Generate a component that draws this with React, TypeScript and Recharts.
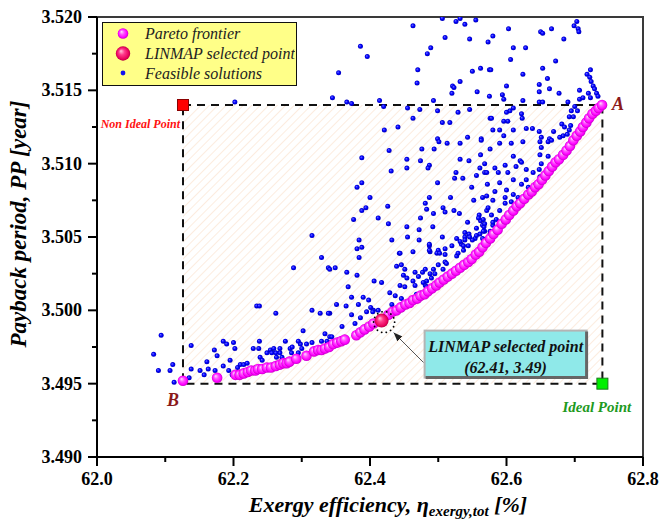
import React from 'react';
import { ScatterChart, Scatter, XAxis, YAxis, ReferenceArea, ReferenceDot, Legend } from 'recharts';

const serif = "'Liberation Serif', 'Times New Roman', serif";

const xMajorTicks = [62.0, 62.2, 62.4, 62.6, 62.8];
const xMinorTicks = [62.1, 62.3, 62.5, 62.7];
const yMajorTicks = [3.49, 3.495, 3.5, 3.505, 3.51, 3.515, 3.52];
const yMinorTicks = [3.4925, 3.4975, 3.5025, 3.5075, 3.5125, 3.5175];

const legendNames = ['Pareto frontier', 'LINMAP selected point', 'Feasible solutions'];
const calloutLines = ['LINMAP selected point', '(62.41, 3.49)'];

// [exergy efficiency %, payback period years]
const paretoFrontier: [number, number][] = [
  [62.126, 3.4952], [62.176, 3.4954], [62.203, 3.4956], [62.209, 3.4956], [62.215, 3.4957],
  [62.221, 3.4958], [62.226, 3.4959], [62.232, 3.4959], [62.236, 3.496], [62.242, 3.496],
  [62.249, 3.4961], [62.255, 3.4961], [62.262, 3.4962], [62.268, 3.4963], [62.273, 3.4964],
  [62.278, 3.4964], [62.282, 3.4965], [62.292, 3.4967], [62.307, 3.4969], [62.318, 3.4972],
  [62.324, 3.4973], [62.329, 3.4973], [62.334, 3.4974], [62.34, 3.4975], [62.346, 3.4977],
  [62.352, 3.4978], [62.358, 3.4979], [62.363, 3.498], [62.38, 3.4983], [62.386, 3.4985],
  [62.392, 3.4987], [62.399, 3.4989], [62.405, 3.4991], [62.427, 3.4997], [62.433, 3.4999],
  [62.439, 3.5], [62.445, 3.5002], [62.452, 3.5004], [62.458, 3.5005], [62.463, 3.5007],
  [62.469, 3.5008], [62.474, 3.501], [62.48, 3.5011], [62.485, 3.5013], [62.491, 3.5015],
  [62.497, 3.5017], [62.502, 3.5019], [62.508, 3.5021], [62.514, 3.5023], [62.52, 3.5025],
  [62.526, 3.5027], [62.532, 3.5029], [62.538, 3.5031], [62.544, 3.5033], [62.549, 3.5035],
  [62.555, 3.5038], [62.56, 3.504], [62.565, 3.5043], [62.57, 3.5046], [62.576, 3.5049],
  [62.581, 3.5052], [62.587, 3.5055], [62.593, 3.5059], [62.599, 3.5062], [62.604, 3.5065],
  [62.61, 3.5068], [62.615, 3.5071], [62.62, 3.5073], [62.626, 3.5076], [62.632, 3.5079],
  [62.637, 3.5081], [62.642, 3.5084], [62.647, 3.5086], [62.652, 3.5089], [62.657, 3.5092],
  [62.662, 3.5095], [62.667, 3.5098], [62.672, 3.5101], [62.677, 3.5103], [62.683, 3.5106],
  [62.688, 3.5109], [62.693, 3.5112], [62.698, 3.5116], [62.703, 3.5119], [62.708, 3.5122],
  [62.712, 3.5125], [62.717, 3.5128], [62.721, 3.5131], [62.726, 3.5134], [62.731, 3.5136],
  [62.735, 3.5138], [62.74, 3.514],
];

const linmapSelected: [number, number][] = [[62.417, 3.4993]];

const nonIdealPoint: [number, number] = [62.126, 3.514];
const idealPoint: [number, number] = [62.7405, 3.495];

const feasibleSolutions: [number, number][] = [
  // lower left tail
  [62.083, 3.497], [62.094, 3.4983], [62.09, 3.4959], [62.107, 3.4959], [62.111, 3.4963],
  [62.113, 3.4951], [62.138, 3.4976], [62.138, 3.496], [62.135, 3.4954], [62.151, 3.4959],
  [62.157, 3.4956], [62.161, 3.4965], [62.163, 3.496], [62.172, 3.4973], [62.176, 3.4969],
  [62.173, 3.4959], [62.185, 3.4979], [62.185, 3.4962], [62.19, 3.4977], [62.193, 3.4959],
  [62.195, 3.4966], [62.198, 3.4956], [62.2, 3.4978], [62.202, 3.4974], [62.206, 3.4961],
  [62.21, 3.4963], [62.215, 3.4963], [62.22, 3.4964], [62.229, 3.4974], [62.234, 3.5003],
  [62.238, 3.5003], [62.237, 3.4974], [62.238, 3.4979], [62.239, 3.4968], [62.242, 3.4966],
  [62.249, 3.4971], [62.254, 3.4973], [62.259, 3.4974], [62.262, 3.4998], [62.263, 3.4968],
  [62.268, 3.4971], [62.271, 3.4968], [62.276, 3.4979], [62.283, 3.4974], [62.286, 3.4975],
  [62.288, 3.5029], [62.298, 3.4977], [62.3, 3.4974], [62.302, 3.4986], [62.315, 3.5],
  [62.315, 3.4978], [62.317, 3.4972], [62.327, 3.4998], [62.334, 3.4984], [62.339, 3.5029],
  [62.339, 3.4978], [62.368, 3.5016], [62.351, 3.5004], [62.383, 3.5004], [62.398, 3.5007],
  [62.406, 3.502], [62.341, 3.4998], [62.359, 3.4989], [62.373, 3.4997], [62.378, 3.4991],
  [62.386, 3.4995], [62.395, 3.4999], [62.405, 3.5], [62.378, 3.4984], [62.341, 3.4982],
  [62.295, 3.4979], [62.307, 3.4977], [62.285, 3.4971], [62.295, 3.4971], [62.268, 3.4974],
  [62.256, 3.4971], [62.262, 3.4971], [62.329, 3.4979], [62.337, 3.4979], [62.344, 3.4982],
  [62.202, 3.5142], [62.315, 3.5051], [62.329, 3.5036], [62.341, 3.5028], [62.339, 3.4998],
  // upper band
  [62.463, 3.5194], [62.506, 3.5199], [62.526, 3.5197], [62.532, 3.5199], [62.539, 3.5195],
  [62.555, 3.5198], [62.51, 3.5186], [62.546, 3.5185], [62.573, 3.5183], [62.386, 3.518],
  [62.396, 3.5173], [62.489, 3.5179], [62.484, 3.5175], [62.354, 3.5162], [62.47, 3.5164],
  [62.469, 3.5155], [62.55, 3.5163], [62.562, 3.5165], [62.575, 3.5164], [62.532, 3.5156],
  [62.521, 3.5153], [62.523, 3.5152], [62.52, 3.5148], [62.557, 3.5149], [62.575, 3.5146],
  [62.345, 3.5145], [62.366, 3.5142], [62.373, 3.5141], [62.414, 3.5143], [62.42, 3.5139],
  [62.455, 3.5138], [62.473, 3.5137], [62.493, 3.5143], [62.499, 3.5136], [62.463, 3.5131],
  [62.506, 3.5128], [62.517, 3.5128], [62.529, 3.5135], [62.546, 3.5137], [62.421, 3.5123],
  [62.441, 3.5125], [62.499, 3.5117], [62.543, 3.5118], [62.563, 3.5117], [62.576, 3.5131],
  [62.703, 3.5197], [62.699, 3.5194], [62.705, 3.5192], [62.706, 3.519], [62.603, 3.5192],
  [62.65, 3.519], [62.653, 3.5189], [62.666, 3.5192], [62.58, 3.5187], [62.684, 3.5185],
  [62.61, 3.5179], [62.628, 3.5179], [62.606, 3.5171], [62.672, 3.517], [62.577, 3.5164],
  [62.653, 3.5165], [62.624, 3.5161], [62.66, 3.5158], [62.648, 3.5154], [62.6, 3.5153],
  [62.663, 3.5151], [62.723, 3.5164], [62.718, 3.5161], [62.722, 3.5159], [62.724, 3.5156],
  [62.727, 3.5153], [62.729, 3.5151], [62.732, 3.5148], [62.734, 3.5146], [62.72, 3.5148],
  [62.707, 3.515], [62.677, 3.5148], [62.648, 3.5149], [62.594, 3.5147], [62.596, 3.5144],
  [62.624, 3.5143], [62.648, 3.5142], [62.653, 3.5142], [62.69, 3.5142], [62.707, 3.5144],
  [62.712, 3.5145], [62.723, 3.5145], [62.61, 3.5138], [62.605, 3.5136], [62.7, 3.5139],
  [62.695, 3.5136], [62.704, 3.5136], [62.622, 3.5134], [62.6, 3.5135], [62.578, 3.5131],
  [62.623, 3.5131], [62.698, 3.5132], [62.602, 3.5129], [62.596, 3.5129], [62.629, 3.5124],
  [62.638, 3.5124], [62.692, 3.5132], [62.694, 3.5126], [62.58, 3.5123], [62.59, 3.5123],
  [62.61, 3.5123], [62.648, 3.5122], [62.669, 3.5122], [62.681, 3.5127], [62.685, 3.5125],
  [62.692, 3.5123], [62.596, 3.5119], [62.651, 3.5118], [62.663, 3.5117], [62.683, 3.5119],
  [62.689, 3.512],
  // middle cloud
  [62.501, 3.5115], [62.513, 3.5114], [62.532, 3.5114], [62.563, 3.5116], [62.428, 3.5109],
  [62.476, 3.511], [62.494, 3.511], [62.388, 3.5104], [62.454, 3.5103], [62.474, 3.5102],
  [62.487, 3.5099], [62.485, 3.5097], [62.454, 3.5097], [62.532, 3.5103], [62.545, 3.5102],
  [62.562, 3.5106], [62.431, 3.5095], [62.526, 3.5094], [62.524, 3.509], [62.536, 3.509],
  [62.556, 3.5092], [62.568, 3.5094], [62.561, 3.5097], [62.388, 3.5087], [62.381, 3.5084],
  [62.499, 3.5087], [62.549, 3.5084], [62.572, 3.5086], [62.4, 3.5077], [62.426, 3.5071],
  [62.394, 3.507], [62.388, 3.5068], [62.376, 3.5062], [62.412, 3.5063], [62.427, 3.5059],
  [62.474, 3.5063], [62.481, 3.5073], [62.487, 3.5077], [62.483, 3.5069], [62.493, 3.5066],
  [62.507, 3.507], [62.51, 3.5067], [62.518, 3.5077], [62.523, 3.5068], [62.531, 3.5066],
  [62.552, 3.5075], [62.565, 3.5077], [62.571, 3.5078], [62.543, 3.506], [62.56, 3.5065],
  [62.562, 3.5061], [62.571, 3.5068], [62.454, 3.5057], [62.472, 3.5055], [62.492, 3.5057],
  [62.455, 3.505], [62.472, 3.5048], [62.506, 3.505], [62.527, 3.5049], [62.539, 3.505],
  [62.545, 3.5052], [62.556, 3.5056], [62.565, 3.5058], [62.568, 3.5054], [62.554, 3.5049],
  [62.561, 3.5052], [62.384, 3.5048], [62.381, 3.5042], [62.388, 3.5043], [62.432, 3.5048],
  [62.443, 3.5039], [62.463, 3.504], [62.487, 3.5044], [62.488, 3.504], [62.5, 3.5041],
  [62.51, 3.5042], [62.52, 3.5044], [62.534, 3.5045], [62.539, 3.5048], [62.498, 3.5039],
  [62.384, 3.5036], [62.559, 3.5063], [62.566, 3.5062], [62.567, 3.5057], [62.556, 3.5051],
  [62.55, 3.5048], [62.544, 3.5044], [62.537, 3.5041], [62.527, 3.5037],
  // dense band above the frontier
  [62.59, 3.5114], [62.607, 3.5114], [62.624, 3.5115], [62.649, 3.5115], [62.661, 3.5115],
  [62.666, 3.5116], [62.678, 3.5118], [62.651, 3.5111], [62.576, 3.511], [62.61, 3.5105],
  [62.62, 3.5102], [62.622, 3.5101], [62.649, 3.5106], [62.661, 3.5105], [62.651, 3.51],
  [62.568, 3.51], [62.583, 3.5097], [62.598, 3.5099], [62.614, 3.5098], [62.571, 3.5094],
  [62.588, 3.5094], [62.602, 3.5094], [62.629, 3.5096], [62.639, 3.5094], [62.648, 3.5096],
  [62.649, 3.5091], [62.629, 3.5089], [62.61, 3.5089], [62.622, 3.5086], [62.59, 3.5087],
  [62.583, 3.5081], [62.6, 3.5082], [62.61, 3.5079], [62.598, 3.5077], [62.617, 3.5077],
  [62.632, 3.5084], [62.58, 3.5075], [62.598, 3.5073], [62.607, 3.5074], [62.573, 3.507],
  [62.59, 3.5068], [62.578, 3.5065], [62.585, 3.5062], [62.568, 3.5059], [62.58, 3.5058],
  [62.566, 3.5054], [62.576, 3.5052], [62.565, 3.5049], [62.349, 3.5029], [62.366, 3.5026],
  [62.365, 3.5003], [62.401, 3.5002], [62.404, 3.4999], [62.412, 3.5], [62.432, 3.5004],
  [62.439, 3.503], [62.446, 3.5031], [62.444, 3.5017], [62.451, 3.5016], [62.454, 3.5022],
  [62.466, 3.5017], [62.471, 3.5023], [62.477, 3.5026], [62.481, 3.5017], [62.483, 3.502],
  [62.488, 3.5025], [62.493, 3.5028], [62.5, 3.5031], [62.51, 3.5033], [62.39, 3.5009],
  [62.373, 3.5009], [62.381, 3.5024], [62.417, 3.5019], [62.429, 3.5012], [62.487, 3.5045],
  [62.539, 3.5053], [62.546, 3.505], [62.576, 3.5054], [62.58, 3.506], [62.444, 3.5039],
  [62.487, 3.5041], [62.502, 3.5039], [62.51, 3.5038], [62.529, 3.5039], [62.532, 3.5047],
  [62.537, 3.5044], [62.451, 3.5028], [62.449, 3.5024], [62.466, 3.5026], [62.481, 3.5028],
  [62.495, 3.5025], [62.49, 3.5022], [62.507, 3.5028], [62.512, 3.5032], [62.478, 3.5019],
  [62.463, 3.502], [62.483, 3.5016], [62.437, 3.501], [62.446, 3.5008], [62.468, 3.5011],
];

const toPoints = (arr: [number, number][]) => arr.map(([x, y]) => ({ x, y }));

const XTick = ({ x, y, payload }: any) => {
  const v = payload.value;
  const major = xMajorTicks.includes(v);
  return (
    <g>
      <line x1={x} x2={x} y1={y} y2={y + (major ? 9 : 5)} stroke="#000" strokeWidth={2} />
      {major && (
        <text x={x} y={y + 28} textAnchor="middle" fontFamily={serif} fontWeight="bold" fontSize={18} fill="#000">
          {v.toFixed(1)}
        </text>
      )}
    </g>
  );
};

const YTick = ({ x, y, payload }: any) => {
  const v = payload.value;
  const major = yMajorTicks.includes(v);
  return (
    <g>
      <line x1={x - (major ? 9 : 5)} x2={x} y1={y} y2={y} stroke="#000" strokeWidth={2} />
      {major && (
        <text x={x - 15} y={y + 6} textAnchor="end" fontFamily={serif} fontWeight="bold" fontSize={18} fill="#000">
          {v.toFixed(3)}
        </text>
      )}
    </g>
  );
};

const XTitle = (props: any) => {
  const vb = props.viewBox || { x: 97, y: 457, width: 546, height: 62 };
  return (
    <text x={vb.x + vb.width / 2 + 18} y={vb.y + 55} textAnchor="middle" fontFamily={serif}
      fontWeight="bold" fontStyle="italic" fontSize={22} fill="#000">
      Exergy efficiency, η
      <tspan fontSize={15} dy={4}>exergy,tot</tspan>
      <tspan dy={-4}> [%]</tspan>
    </text>
  );
};

const YTitle = (props: any) => {
  const vb = props.viewBox || { x: 0, y: 17, width: 97, height: 440 };
  const cy = vb.y + vb.height / 2 - 13;
  return (
    <text x={26} y={cy} transform={`rotate(-90 26 ${cy})`} textAnchor="middle" fontFamily={serif}
      fontWeight="bold" fontStyle="italic" fontSize={23} fill="#000">
      Payback period, PP [year]
    </text>
  );
};

const FeasibleDot = ({ cx, cy }: any) => <circle cx={cx} cy={cy} r={2.5} fill="url(#blueBall)" />;
const ParetoBall = ({ cx, cy }: any) => <circle cx={cx} cy={cy} r={5.3} fill="url(#paretoBall)" />;
const LinmapBall = ({ cx, cy }: any) => <circle cx={cx} cy={cy} r={7} fill="url(#linmapBall)" />;

const LegendBox = () => (
  <div style={{ width: 195, height: 64, boxSizing: 'border-box', background: '#FFFF88', border: '1.5px solid #111' }}>
    <svg width={192} height={61} style={{ display: 'block' }}>
      <defs>
        <radialGradient id="lgPareto" cx="50%" cy="50%" r="50%" fx="35%" fy="32%">
          <stop offset="0%" stopColor="#FFE0FF" />
          <stop offset="40%" stopColor="#FF55FF" />
          <stop offset="80%" stopColor="#FF00FF" />
          <stop offset="100%" stopColor="#C800C8" />
        </radialGradient>
        <radialGradient id="lgLinmap" cx="50%" cy="50%" r="50%" fx="35%" fy="32%">
          <stop offset="0%" stopColor="#FFC8DC" />
          <stop offset="40%" stopColor="#FF3C8C" />
          <stop offset="85%" stopColor="#E8005A" />
          <stop offset="100%" stopColor="#B00040" />
        </radialGradient>
      </defs>
      <circle cx={20} cy={10.5} r={5.3} fill="url(#lgPareto)" />
      <circle cx={20} cy={30.5} r={7.2} fill="url(#lgLinmap)" />
      <circle cx={20} cy={50} r={2.4} fill="#1010F0" />
      {legendNames.map((n, i) => (
        <text key={n} x={42} y={[16, 36, 55.5][i]} fontFamily={serif} fontStyle="italic" fontSize={16} fill="#222">
          {n}
        </text>
      ))}
    </svg>
  </div>
);

const NonIdealMark = ({ cx, cy }: any) => (
  <g>
    <rect x={cx - 5.5} y={cy - 5.5} width={11} height={11} fill="#FF0000" stroke="#8B0000" strokeWidth={1} />
    <text x={cx - 3} y={cy + 23} textAnchor="end" fontFamily={serif} fontWeight="bold" fontStyle="italic" fontSize={12} fill="#FF1010">
      Non Ideal Point
    </text>
  </g>
);

const IdealMark = ({ cx, cy }: any) => (
  <g>
    <rect x={cx - 5.5} y={cy - 5.5} width={11} height={11} fill="#00F000" stroke="#1A7A1A" strokeWidth={1} />
    <text x={cx - 40} y={cy + 28} fontFamily={serif} fontWeight="bold" fontStyle="italic" fontSize={15} fill="#1E9A1E">
      Ideal Point
    </text>
  </g>
);

const LetterA = ({ cx, cy }: any) => (
  <text x={cx + 10} y={cy + 5} fontFamily={serif} fontWeight="bold" fontStyle="italic" fontSize={18} fill="#8B1A1A">A</text>
);

const LetterB = ({ cx, cy }: any) => (
  <text x={cx - 16} y={cy + 25} fontFamily={serif} fontWeight="bold" fontStyle="italic" fontSize={18} fill="#8B1A1A">B</text>
);

const LinmapCallout = ({ cx, cy }: any) => {
  const bx = cx + 43;
  const by = cy + 10;
  const bw = 162;
  const bh = 47;
  return (
    <g>
      <circle cx={cx + 2.5} cy={cy + 1.5} r={10.5} fill="none" stroke="#000" strokeWidth={1.8}
        strokeDasharray="0.1 4.6" strokeLinecap="round" />
      <line x1={cx + 42} y1={cy + 42} x2={cx + 12} y2={cy + 12} stroke="#555" strokeWidth={1}
        markerEnd="url(#arrowHead)" />
      <rect x={bx} y={by} width={bw} height={bh} fill="#8FE9E9" stroke="#B4B4B4" strokeWidth={2} />
      <polyline points={`${bx + 1},${by + bh} ${bx + bw},${by + bh} ${bx + bw},${by + 1}`} fill="none"
        stroke="#666" strokeWidth={3} />
      {calloutLines.map((t, i) => (
        <text key={t} x={bx + bw / 2} y={by + 21 + i * 21} textAnchor="middle" fontFamily={serif}
          fontWeight="bold" fontStyle="italic" fontSize={16} fill="#111">
          {t}
        </text>
      ))}
    </g>
  );
};

export default function App() {
  return (
    <div style={{ position: 'absolute', left: 0, top: 0, background: '#fff' }}>
      <ScatterChart width={662} height={519} margin={{ top: 17, right: 19, bottom: 0, left: 0 }}>
        <defs>
          <pattern id="hatch" width={6} height={6} patternUnits="userSpaceOnUse" patternTransform="rotate(45)">
            <line x1={0} y1={0} x2={0} y2={6} stroke="#FAE0CA" strokeWidth={1.2} />
          </pattern>
          <radialGradient id="blueBall" cx="50%" cy="50%" r="50%" fx="35%" fy="35%">
            <stop offset="0%" stopColor="#7070FF" />
            <stop offset="55%" stopColor="#0000FF" />
            <stop offset="100%" stopColor="#0000B8" />
          </radialGradient>
          <radialGradient id="paretoBall" cx="50%" cy="50%" r="50%" fx="35%" fy="32%">
            <stop offset="0%" stopColor="#FFE0FF" />
            <stop offset="40%" stopColor="#FF55FF" />
            <stop offset="80%" stopColor="#FF00FF" />
            <stop offset="100%" stopColor="#C800C8" />
          </radialGradient>
          <radialGradient id="linmapBall" cx="50%" cy="50%" r="50%" fx="35%" fy="32%">
            <stop offset="0%" stopColor="#FFC8DC" />
            <stop offset="40%" stopColor="#FF3C8C" />
            <stop offset="85%" stopColor="#E8005A" />
            <stop offset="100%" stopColor="#B00040" />
          </radialGradient>
          <marker id="arrowHead" viewBox="0 0 10 10" refX={10} refY={5} markerWidth={9} markerHeight={9} orient="auto">
            <path d="M0,1 L10,5 L0,9 z" fill="#222" />
          </marker>
        </defs>
        <XAxis type="number" dataKey="x" domain={[62.0, 62.8]} ticks={[...xMajorTicks, ...xMinorTicks].sort()}
          interval={0} tick={XTick} tickLine={false} tickSize={0} tickMargin={0} height={62}
          axisLine={{ stroke: '#000', strokeWidth: 2 }} allowDataOverflow label={XTitle} />
        <YAxis type="number" dataKey="y" domain={[3.49, 3.52]} ticks={[...yMajorTicks, ...yMinorTicks].sort()}
          interval={0} tick={YTick} tickLine={false} tickSize={0} tickMargin={0} width={97}
          axisLine={{ stroke: '#000', strokeWidth: 2 }} allowDataOverflow label={YTitle} />
        <ReferenceArea x1={62.0} x2={62.8} y1={3.49} y2={3.52} fill="none" stroke="#3a3a3a" strokeWidth={2} />
        <ReferenceArea x1={nonIdealPoint[0]} x2={idealPoint[0]} y1={idealPoint[1]} y2={nonIdealPoint[1]}
          fill="url(#hatch)" fillOpacity={1} stroke="#111" strokeWidth={2} strokeDasharray="8 6" />
        <Scatter name="Feasible solutions" data={toPoints(feasibleSolutions)} shape={FeasibleDot} isAnimationActive={false} />
        <Scatter name="Pareto frontier" data={toPoints(paretoFrontier)} shape={ParetoBall} isAnimationActive={false} />
        <Scatter name="LINMAP selected point" data={toPoints(linmapSelected)} shape={LinmapBall} isAnimationActive={false} />
        <ReferenceDot x={nonIdealPoint[0]} y={nonIdealPoint[1]} shape={NonIdealMark} />
        <ReferenceDot x={idealPoint[0]} y={idealPoint[1]} shape={IdealMark} />
        <ReferenceDot x={paretoFrontier[paretoFrontier.length - 1][0]} y={paretoFrontier[paretoFrontier.length - 1][1]} shape={LetterA} />
        <ReferenceDot x={paretoFrontier[0][0]} y={paretoFrontier[0][1]} shape={LetterB} />
        <ReferenceDot x={linmapSelected[0][0]} y={linmapSelected[0][1]} shape={LinmapCallout} />
        <Legend layout="vertical" align="center" verticalAlign="middle" content={LegendBox}
          wrapperStyle={{ left: 102, top: 22, width: 195, height: 64 }} />
      </ScatterChart>
    </div>
  );
}
